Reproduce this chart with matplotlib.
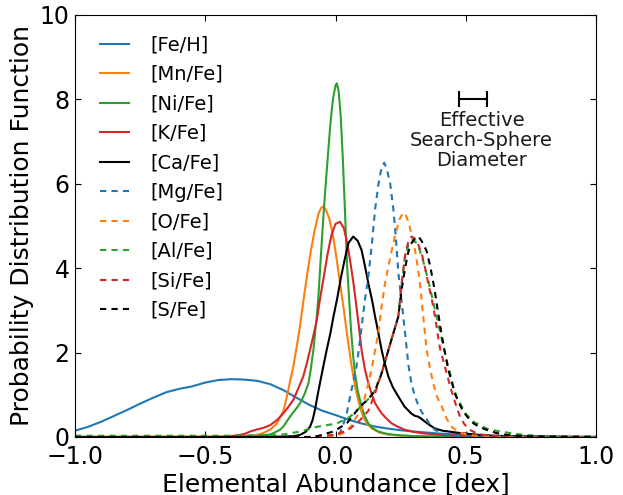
import numpy as np
import matplotlib
matplotlib.use('Agg')
import matplotlib.pyplot as plt

# values (x in dex, y = PDF)
feh_x = [-1.0,-0.95,-0.9,-0.85,-0.8,-0.75,-0.7,-0.65,-0.6,-0.55,-0.5,-0.45,-0.4,-0.35,-0.3,-0.25,-0.2,-0.15,-0.1,-0.05,0.0,0.05,0.1,0.15,0.2,0.25,0.3,0.4,0.5,0.6,0.7,0.8,0.9,1.0]
feh_y = [0.15,0.24,0.36,0.50,0.64,0.79,0.93,1.06,1.14,1.20,1.29,1.35,1.37,1.36,1.33,1.25,1.11,0.93,0.76,0.62,0.52,0.41,0.32,0.25,0.20,0.16,0.13,0.08,0.05,0.03,0.02,0.01,0.0,0.0]

mn_x = [-1.0,-0.4,-0.35,-0.3,-0.275,-0.25,-0.225,-0.2,-0.187,-0.175,-0.162,-0.15,-0.137,-0.125,-0.11,-0.095,-0.08,-0.065,-0.055,-0.047,-0.038,-0.025,-0.012,0.0,0.015,0.03,0.045,0.06,0.075,0.09,0.105,0.12,0.14,0.17,0.2,0.25,0.35,0.5,1.0]
mn_y = [0.0,0.01,0.02,0.05,0.1,0.18,0.32,0.62,0.95,1.3,1.67,2.1,2.6,3.15,3.8,4.4,4.9,5.3,5.43,5.46,5.4,5.2,4.85,4.4,3.75,3.1,2.4,1.75,1.2,0.8,0.5,0.32,0.2,0.1,0.06,0.03,0.01,0.0,0.0]

ni_x = [-1.0,-0.4,-0.3,-0.25,-0.213,-0.2,-0.175,-0.15,-0.136,-0.12,-0.104,-0.095,-0.085,-0.078,-0.072,-0.066,-0.058,-0.05,-0.04,-0.03,-0.02,-0.01,0.0,0.005,0.012,0.02,0.028,0.036,0.044,0.052,0.06,0.068,0.075,0.085,0.1,0.113,0.126,0.145,0.164,0.2,0.23,0.3,0.5,1.0]
ni_y = [0.0,0.0,0.02,0.06,0.17,0.25,0.48,0.68,0.8,1.0,1.27,1.6,2.06,2.5,2.85,3.3,4.1,4.9,5.8,6.6,7.4,8.0,8.33,8.38,8.2,7.6,6.6,5.4,4.1,3.3,2.5,1.9,1.5,1.1,0.72,0.48,0.32,0.2,0.13,0.07,0.05,0.02,0.0,0.0]

k_x = [-1.0,-0.45,-0.4,-0.35,-0.328,-0.3,-0.275,-0.251,-0.225,-0.2,-0.18,-0.162,-0.145,-0.124,-0.11,-0.098,-0.085,-0.072,-0.06,-0.045,-0.03,-0.015,0.0,0.017,0.032,0.045,0.058,0.07,0.08,0.09,0.1,0.113,0.126,0.14,0.152,0.165,0.177,0.195,0.216,0.24,0.267,0.3,0.331,0.4,0.5,0.7,1.0]
k_y = [0.0,0.0,0.02,0.07,0.13,0.18,0.22,0.28,0.4,0.56,0.72,0.88,1.12,1.43,1.75,2.06,2.4,2.77,3.25,3.8,4.35,4.8,5.05,5.1,4.95,4.6,4.1,3.6,3.1,2.6,2.06,1.6,1.27,1.0,0.8,0.67,0.56,0.44,0.32,0.24,0.17,0.12,0.09,0.05,0.03,0.01,0.0]

ca_x = [-1.0,-0.3,-0.2,-0.16,-0.136,-0.115,-0.098,-0.088,-0.079,-0.07,-0.06,-0.047,-0.034,-0.02,-0.008,0.007,0.02,0.035,0.05,0.068,0.085,0.1,0.113,0.126,0.14,0.152,0.165,0.177,0.19,0.203,0.22,0.241,0.265,0.292,0.305,0.318,0.33,0.344,0.362,0.382,0.41,0.433,0.47,0.5,0.55,0.6,0.7,1.0]
ca_y = [0.0,0.0,0.01,0.02,0.05,0.12,0.24,0.4,0.64,0.95,1.27,1.67,2.06,2.45,2.85,3.3,3.75,4.2,4.6,4.75,4.65,4.43,4.05,3.64,3.25,2.85,2.45,2.06,1.72,1.43,1.18,0.96,0.72,0.55,0.5,0.48,0.43,0.36,0.28,0.2,0.15,0.13,0.1,0.08,0.05,0.03,0.01,0.0]

mg_x = [-1.0,-0.1,0.0,0.017,0.03,0.043,0.056,0.068,0.08,0.088,0.1,0.113,0.126,0.14,0.152,0.165,0.177,0.187,0.197,0.21,0.222,0.232,0.241,0.254,0.267,0.28,0.292,0.305,0.318,0.33,0.344,0.362,0.382,0.41,0.45,0.5,0.6,1.0]
mg_y = [0.0,0.0,0.03,0.09,0.3,0.56,0.96,1.3,1.65,2.0,2.6,3.25,3.8,4.6,5.4,6.0,6.4,6.5,6.35,6.0,5.4,4.7,3.9,3.2,2.46,1.7,1.25,0.96,0.75,0.6,0.48,0.3,0.17,0.08,0.03,0.01,0.0,0.0]

o_x = [-1.0,-0.1,0.0,0.03,0.06,0.081,0.1,0.113,0.126,0.14,0.152,0.165,0.177,0.19,0.203,0.216,0.23,0.245,0.258,0.267,0.28,0.292,0.305,0.315,0.324,0.337,0.35,0.362,0.375,0.39,0.408,0.425,0.446,0.465,0.484,0.52,0.6,1.0]
o_y = [0.0,0.0,0.02,0.09,0.25,0.48,0.64,0.95,1.27,1.65,2.06,2.5,3.1,3.64,4.05,4.43,4.8,5.15,5.3,5.3,5.1,4.8,4.43,4.05,3.64,2.85,2.06,1.65,1.27,0.95,0.72,0.45,0.24,0.15,0.09,0.04,0.01,0.0]

al_x = [-1.0,-0.6,-0.4,-0.3,-0.2,-0.136,-0.072,0.005,0.056,0.094,0.126,0.152,0.177,0.203,0.222,0.241,0.254,0.267,0.28,0.292,0.3,0.31,0.322,0.335,0.348,0.36,0.375,0.39,0.401,0.414,0.427,0.44,0.452,0.465,0.478,0.5,0.53,0.58,0.63,0.72,0.8,0.9,1.0]
al_y = [0.03,0.03,0.03,0.04,0.06,0.13,0.24,0.32,0.48,0.7,0.9,1.1,1.51,2.06,2.46,2.85,3.64,4.3,4.55,4.65,4.67,4.6,4.45,4.2,3.9,3.6,3.2,2.8,2.5,2.15,1.8,1.5,1.2,0.95,0.8,0.55,0.36,0.2,0.13,0.05,0.02,0.01,0.01]

si_x = [-1.0,-0.1,-0.008,0.03,0.056,0.094,0.126,0.152,0.177,0.203,0.222,0.241,0.254,0.267,0.28,0.292,0.305,0.318,0.331,0.344,0.356,0.37,0.382,0.392,0.401,0.414,0.427,0.44,0.452,0.465,0.478,0.495,0.516,0.54,0.567,0.62,0.7,1.0]
si_y = [0.0,0.0,0.05,0.12,0.2,0.4,0.62,1.04,1.51,2.06,2.46,2.85,3.64,4.3,4.65,4.75,4.7,4.55,4.35,4.0,3.64,3.25,2.85,2.45,2.1,1.8,1.5,1.2,0.96,0.7,0.48,0.3,0.17,0.09,0.05,0.02,0.0,0.0]

s_x = [-1.0,-0.1,-0.07,-0.008,0.043,0.094,0.126,0.152,0.177,0.203,0.222,0.241,0.254,0.267,0.28,0.292,0.305,0.32,0.335,0.35,0.365,0.38,0.395,0.408,0.42,0.433,0.446,0.46,0.475,0.49,0.51,0.53,0.555,0.58,0.62,0.657,0.72,0.8,1.0]
s_y = [0.0,0.0,0.02,0.13,0.32,0.72,0.9,1.1,1.51,2.06,2.46,2.85,3.5,4.0,4.4,4.6,4.7,4.74,4.6,4.4,4.0,3.5,2.9,2.4,2.0,1.6,1.3,1.0,0.8,0.6,0.45,0.32,0.23,0.17,0.09,0.05,0.02,0.01,0.0]

labels = ['[Fe/H]', '[Mn/Fe]', '[Ni/Fe]', '[K/Fe]', '[Ca/Fe]',
          '[Mg/Fe]', '[O/Fe]', '[Al/Fe]', '[Si/Fe]', '[S/Fe]']
xs = [feh_x, mn_x, ni_x, k_x, ca_x, mg_x, o_x, al_x, si_x, s_x]
ys = [feh_y, mn_y, ni_y, k_y, ca_y, mg_y, o_y, al_y, si_y, s_y]
colors = ['#1f77b4', '#ff7f0e', '#2ca02c', '#d62728', 'k'] * 2

sphere_center = 0.527
sphere_width = 0.107
sphere_y = 8.0

fig = plt.figure(figsize=(6.23, 4.95), dpi=100)
ax = fig.add_axes([0.1204, 0.1172, 0.8363, 0.8525])

for i in range(len(labels)):
    ls = '-' if i < 5 else (0, (3, 2.5))
    ax.plot(xs[i], ys[i], color=colors[i], lw=1.5, ls=ls, label=labels[i])

ax.errorbar(sphere_center, sphere_y, xerr=sphere_width / 2, color='k', lw=1.5,
            capsize=6, capthick=1.5)
ax.text(0.561, 7.72, 'Effective\nSearch-Sphere\nDiameter', ha='center', va='top',
        fontsize=14, linespacing=1.05, color='#1a1a1a')

ax.set_xlim(-1, 1)
ax.set_ylim(0, 10)
ax.set_xticks([-1.0, -0.5, 0.0, 0.5, 1.0])
ax.set_yticks([0, 2, 4, 6, 8, 10])
ax.tick_params(direction='in', top=True, right=True, length=4, labelsize=17)
ax.tick_params(axis='x', pad=6)
ax.tick_params(axis='y', pad=4)
ax.set_xlabel('Elemental Abundance [dex]', fontsize=18, labelpad=2)
ax.set_ylabel('Probability Distribution Function', fontsize=18, labelpad=4)

ax.legend(loc='upper left', bbox_to_anchor=(0.014, 0.993), frameon=False,
          fontsize=14, handlelength=1.5, handletextpad=1.1, labelspacing=0.54)

fig.savefig('out.png', dpi=100)
